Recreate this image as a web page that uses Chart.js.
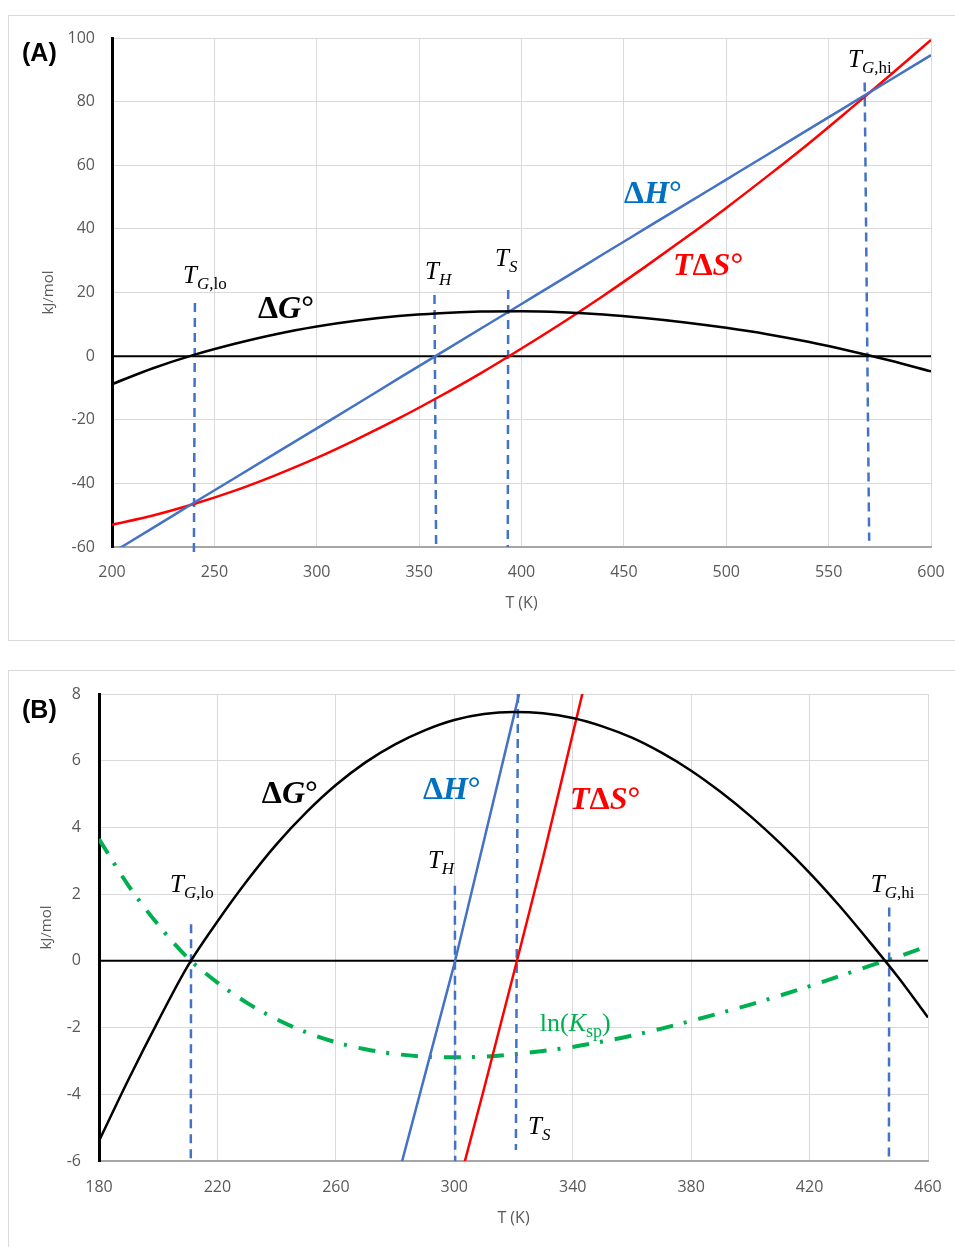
<!DOCTYPE html>
<html>
<head>
<meta charset="utf-8">
<script src="https://cdn.jsdelivr.net/npm/chart.js@4.4.1/dist/chart.umd.min.js"></script>
<style>
  body { margin: 0; background: #fff; width: 955px; height: 1247px; overflow: hidden; position: relative; }
  .panel { position: absolute; left: 8px; width: 960px; border: 1px solid #d9d9d9; box-sizing: border-box; }
  #panelA { top: 15px; height: 626px; }
  #panelB { top: 670px; height: 600px; }
  canvas { position: absolute; left: 8px; }
  #chartA { top: 15px; }
  #chartB { top: 670px; }
  .tag { position: absolute; left: 22px; font: bold 25px "Liberation Sans", Arial, sans-serif; color: #000; }
</style>
</head>
<body>
<div class="panel" id="panelA"></div>
<div class="panel" id="panelB"></div>
<canvas id="chartA" width="947" height="625"></canvas>
<canvas id="chartB" width="947" height="577"></canvas>
<div class="tag" style="top:38px">(A)</div>
<div class="tag" style="top:695px">(B)</div>
<script>
// ---- panel A data (T in K, energies in kJ/mol)
const tempA = [200, 220, 240, 260, 280, 300, 320, 340, 360, 380, 400, 420, 440, 460, 480, 500, 520, 540, 560, 580, 600];
const dHA = [-61.8, -54.0, -46.1, -38.3, -30.5, -22.7, -14.9, -7.0, 0.8, 8.6, 16.4, 24.2, 32.1, 39.9, 47.7, 55.5, 63.3, 71.2, 79.0, 86.8, 94.6];
const tdSA = [-53.0, -50.1, -46.5, -42.3, -37.4, -32.0, -26.0, -19.6, -12.7, -5.4, 2.4, 10.5, 19.0, 27.9, 37.1, 46.6, 56.5, 66.7, 77.4, 88.3, 99.4];
const dGA = [-8.8, -3.8, 0.4, 3.9, 6.9, 9.3, 11.2, 12.6, 13.5, 14.0, 14.1, 13.8, 13.1, 12.0, 10.6, 8.9, 6.9, 4.5, 1.7, -1.4, -4.8];

// ---- panel B data
const tempB = [180, 190, 200, 210, 220, 230, 240, 250, 260, 270, 280, 290, 300, 310, 320, 330, 340, 350, 360, 370, 380, 390, 400, 410, 420, 430, 440, 450, 460];
const dGB = [-5.40, -3.55, -1.80, -0.15, 1.18, 2.40, 3.50, 4.45, 5.27, 5.95, 6.49, 6.91, 7.22, 7.40, 7.46, 7.42, 7.28, 7.03, 6.69, 6.24, 5.70, 5.06, 4.34, 3.53, 2.64, 1.66, 0.60, -0.50, -1.70];
const lnKB = [3.65, 2.25, 1.08, 0.09, -0.65, -1.26, -1.75, -2.14, -2.44, -2.65, -2.79, -2.87, -2.89, -2.87, -2.80, -2.70, -2.58, -2.42, -2.24, -2.03, -1.80, -1.56, -1.31, -1.04, -0.76, -0.46, -0.16, 0.13, 0.44];
const tempBH = [280, 300, 320, 330];
const dHB = [-6.8, -0.1, 7.3, 11.0];
const tempBS = [300, 310, 320, 330, 340, 350];
const tdSB = [-7.2, -3.85, -0.4, 3.1, 6.8, 10.5];

// marker lines: [T top, value top, T bottom, value bottom]
const markA = { Glo: [240.5, 16.7, 240.0, -61.6], H: [357.5, 19.2, 358.3, -60], S: [393.5, 20.8, 393.3, -60], Ghi: [567.6, 86, 569.8, -58] };
const markB = { Glo: [211.1, 1.1, 211.0, -6], H: [300.2, 2.25, 300.3, -6], S: [321.5, 8, 320.8, -5.67], Ghi: [446.9, 1.6, 446.8, -6] };

const serif = '"Liberation Serif", "Times New Roman", serif';
const BLUE = '#4472C4', RED = '#FF0000', GREEN = '#00B050';

function pts(xs, ys) { return xs.map((x, i) => ({ x: x, y: ys[i] })); }
function mark(m) { return [{ x: m[0], y: m[1] }, { x: m[2], y: m[3] }]; }

function curve(data, color, extra) {
  return Object.assign({ data: data, borderColor: color, borderWidth: 2.5, pointRadius: 0, fill: false, cubicInterpolationMode: 'monotone' }, extra || {});
}
function dashed(m) {
  return { data: mark(m), borderColor: BLUE, borderWidth: 2.5, borderDash: [9, 6], pointRadius: 0, clip: false };
}

function tSym(sub, rest) {
  const p = [{ t: 'T', f: 'italic 25px ' + serif }, { t: sub, f: 'italic 17px ' + serif, dy: 6 }];
  if (rest) p.push({ t: rest, f: '17px ' + serif, dy: 6 });
  return p;
}
function bold(letters) {
  return letters.map(s => ({ t: s, f: (s === 'Δ' || s === '°' ? 'bold 32px ' : 'italic bold 32px ') + serif }));
}

const labelsA = [
  { x: 234.7, y: 22.9, parts: tSym('G', ',lo'), c: '#000' },
  { x: 271.3, y: 11.9, parts: bold(['Δ', 'G', '°']), c: '#000' },
  { x: 352.9, y: 24.2, parts: tSym('H'), c: '#000' },
  { x: 387.1, y: 28.3, parts: tSym('S'), c: '#000' },
  { x: 450.1, y: 48.1, parts: bold(['Δ', 'H', '°']), c: '#0070C0' },
  { x: 474.0, y: 25.5, parts: bold(['T', 'Δ', 'S', '°']), c: RED },
  { x: 559.5, y: 90.9, parts: tSym('G', ',hi'), c: '#000' }
];
const labelsB = [
  { x: 204.0, y: 2.07, parts: tSym('G', ',lo'), c: '#000' },
  { x: 235.0, y: 4.74, parts: bold(['Δ', 'G', '°']), c: '#000' },
  { x: 289.4, y: 4.86, parts: bold(['Δ', 'H', '°']), c: '#0070C0' },
  { x: 339.1, y: 4.56, parts: bold(['T', 'Δ', 'S', '°']), c: RED },
  { x: 291.1, y: 2.79, parts: tSym('H'), c: '#000' },
  { x: 328.9, y: -2.10, parts: [{ t: 'ln(', f: '26px ' + serif }, { t: 'K', f: 'italic 26px ' + serif }, { t: 'sp', f: '18px ' + serif, dy: 6 }, { t: ')', f: '26px ' + serif }], c: GREEN },
  { x: 324.9, y: -5.19, parts: tSym('S'), c: '#000' },
  { x: 440.7, y: 2.07, parts: tSym('G', ',hi'), c: '#000' }
];

const textPlugin = {
  id: 'richText',
  afterDatasetsDraw(chart, args, opts) {
    const ctx = chart.ctx;
    const xs = chart.scales.x, ys = chart.scales.y;
    ctx.save();
    ctx.textAlign = 'left';
    ctx.textBaseline = 'alphabetic';
    for (const lb of opts.items) {
      let px = xs.getPixelForValue(lb.x);
      const py = ys.getPixelForValue(lb.y);
      ctx.fillStyle = lb.c;
      for (const p of lb.parts) {
        ctx.font = p.f;
        ctx.fillText(p.t, px, py + (p.dy || 0));
        px += ctx.measureText(p.t).width;
      }
    }
    ctx.restore();
  }
};

const tickFont = { family: '"Open Sans", sans-serif', size: 16 };

function makeChart(id, datasets, sc) {
  return new Chart(document.getElementById(id), {
    type: 'line',
    data: { datasets: datasets },
    plugins: [textPlugin],
    options: {
      responsive: false,
      animation: false,
      layout: { padding: { top: sc.top, right: sc.right, left: 0, bottom: 0 } },
      plugins: { legend: { display: false }, tooltip: { enabled: false }, richText: { items: sc.labels } },
      scales: {
        x: {
          type: 'linear', min: sc.xmin, max: sc.xmax,
          ticks: { stepSize: sc.xstep, color: '#595959', font: tickFont, padding: sc.xpad, maxRotation: 0 },
          grid: { color: '#d9d9d9', drawTicks: false },
          border: { color: '#a6a6a6', width: 2 },
          title: { display: true, text: 'T (K)', color: '#595959', font: { family: '"Open Sans", sans-serif', size: 16 }, padding: { bottom: sc.xtpad, top: 0 } },
          afterFit: s => { s.height = sc.xh; s.paddingLeft = 0; s.paddingRight = 0; }
        },
        y: {
          min: sc.ymin, max: sc.ymax,
          ticks: { stepSize: sc.ystep, color: '#595959', font: tickFont, padding: sc.ypad },
          grid: { color: '#d9d9d9', drawTicks: false },
          border: { color: '#000', width: 3 },
          title: { display: true, text: 'kJ/mol', color: '#595959', font: { family: '"Open Sans", sans-serif', size: 15 }, padding: { top: sc.ytpad, bottom: 0 } },
          afterFit: s => { s.width = sc.yw; s.paddingTop = 0; s.paddingBottom = 0; }
        }
      }
    }
  });
}

makeChart('chartA', [
  curve(pts(tempA, dGA), '#000'),
  curve(pts(tempA, dHA), BLUE),
  curve(pts(tempA, tdSA), RED),
  curve(pts([200, 600], [0, 0]), '#000', { borderWidth: 2 }),
  dashed(markA.Glo), dashed(markA.H), dashed(markA.S), dashed(markA.Ghi)
], { top: 23, right: 24, xh: 93, yw: 104, xmin: 200, xmax: 600, xstep: 50, ymin: -60, ymax: 100, ystep: 20,
     xpad: 16, ypad: 17, xtpad: 27, ytpad: 32, labels: labelsA });

makeChart('chartB', [
  curve(pts(tempB, dGB), '#000'),
  curve(pts(tempBH, dHB), BLUE, { cubicInterpolationMode: 'default', tension: 0 }),
  curve(pts(tempBS, tdSB), RED),
  curve(pts([180, 460], [0, 0]), '#000', { borderWidth: 2 }),
  dashed(markB.Glo), dashed(markB.H), dashed(markB.S), dashed(markB.Ghi),
  curve(pts(tempB, lnKB), GREEN, { borderWidth: 4, borderDash: [17, 11, 3, 12] })
], { top: 24, right: 27, xh: 86, yw: 91, xmin: 180, xmax: 460, xstep: 40, ymin: -6, ymax: 8, ystep: 2,
     xpad: 17, ypad: 18, xtpad: 19, ytpad: 30, labels: labelsB });
</script>
</body>
</html>
